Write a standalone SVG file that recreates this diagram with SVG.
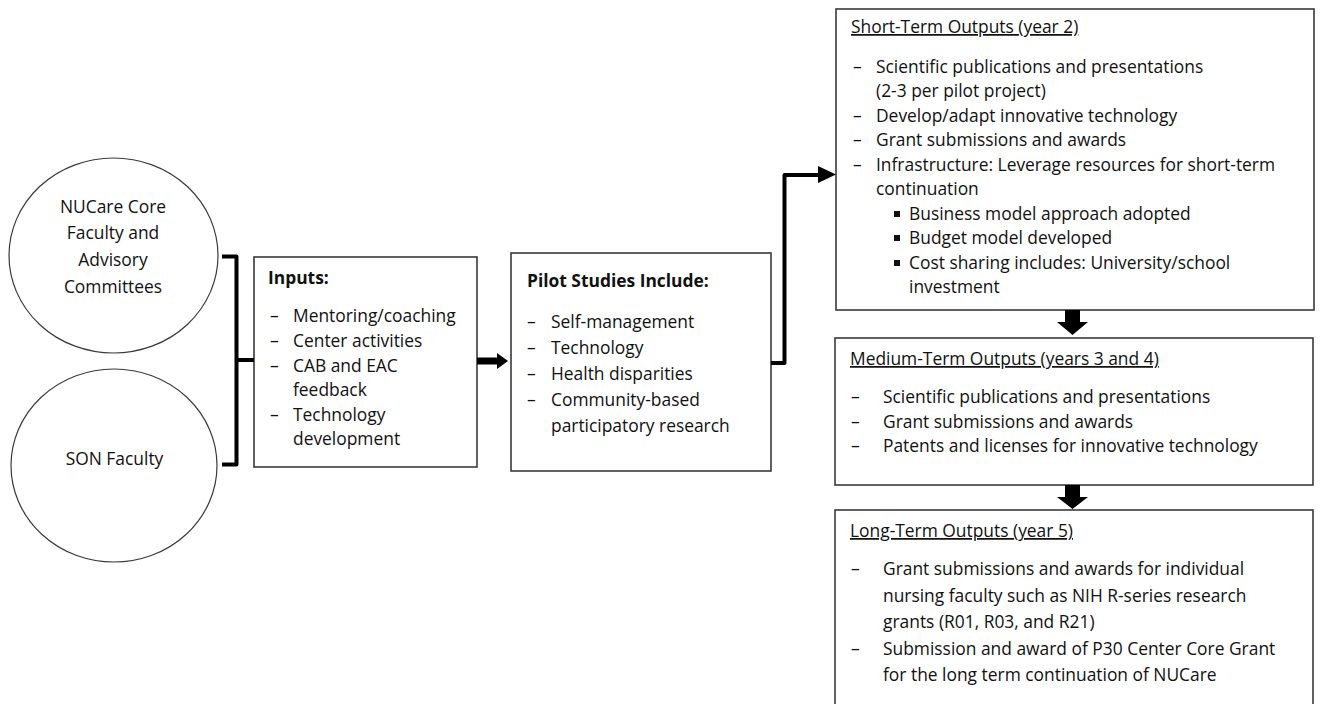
<svg xmlns="http://www.w3.org/2000/svg" width="1320" height="704" viewBox="0 0 1320 704">
<style>
  .t { font-family: "Open Sans", "Liberation Sans", sans-serif; font-size: 17.4px; fill: #111111; }
  .b { font-weight: bold; }
  .u { text-decoration: underline; }
  .c { text-anchor: middle; }
  .box { fill: #ffffff; stroke: #3a3a3a; stroke-width: 1.6; }
  .circ { fill: #ffffff; stroke: #3a3a3a; stroke-width: 1.2; }
  .thick { fill: none; stroke: #000000; stroke-width: 4; stroke-linejoin: round; }
  .head { fill: #000000; stroke: none; }
  .sq { fill: #111111; }
</style>
<rect x="0" y="0" width="1320" height="704" fill="#ffffff"/>

<g id="node-nucare">
  <ellipse class="circ" cx="113.5" cy="255.5" rx="104.5" ry="97.5"/>
  <text class="t c" x="113" y="213">NUCare Core</text>
  <text class="t c" x="113" y="239">Faculty and</text>
  <text class="t c" x="113" y="266">Advisory</text>
  <text class="t c" x="113" y="293">Committees</text>
</g>

<g id="node-son">
  <ellipse class="circ" cx="114" cy="465.5" rx="103" ry="96.5"/>
  <text class="t c" x="114.5" y="465">SON Faculty</text>
</g>

<g id="node-inputs">
  <rect class="box" x="254" y="257" width="223" height="210"/>
  <text class="t b" x="268" y="284">Inputs:</text>
  <text class="t" x="270" y="322">–</text><text class="t" x="293" y="322">Mentoring/coaching</text>
  <text class="t" x="270" y="347">–</text><text class="t" x="293" y="347">Center activities</text>
  <text class="t" x="270" y="372">–</text><text class="t" x="293" y="372">CAB and EAC</text>
  <text class="t" x="293" y="396">feedback</text>
  <text class="t" x="270" y="421">–</text><text class="t" x="293" y="421">Technology</text>
  <text class="t" x="293" y="445">development</text>
</g>

<g id="node-pilot">
  <rect class="box" x="511" y="253" width="260" height="218"/>
  <text class="t b" x="527" y="287">Pilot Studies Include:</text>
  <text class="t" x="527" y="328">–</text><text class="t" x="551" y="328">Self-management</text>
  <text class="t" x="527" y="354">–</text><text class="t" x="551" y="354">Technology</text>
  <text class="t" x="527" y="380">–</text><text class="t" x="551" y="380">Health disparities</text>
  <text class="t" x="527" y="406">–</text><text class="t" x="551" y="406">Community-based</text>
  <text class="t" x="551" y="432">participatory research</text>
</g>

<g id="node-short">
  <rect class="box" x="836" y="9" width="478" height="301"/>
  <text class="t u" x="851" y="33">Short-Term Outputs (year 2)</text>
  <text class="t" x="853" y="73">–</text><text class="t" x="876" y="73">Scientific publications and presentations</text>
  <text class="t" x="876" y="97">(2-3 per pilot project)</text>
  <text class="t" x="853" y="122">–</text><text class="t" x="876" y="122">Develop/adapt innovative technology</text>
  <text class="t" x="853" y="146">–</text><text class="t" x="876" y="146">Grant submissions and awards</text>
  <text class="t" x="853" y="171">–</text><text class="t" x="876" y="171">Infrastructure: Leverage resources for short-term</text>
  <text class="t" x="876" y="195">continuation</text>
  <rect class="sq" x="894" y="211" width="6" height="6"/><text class="t" x="909" y="220">Business model approach adopted</text>
  <rect class="sq" x="894" y="235" width="6" height="6"/><text class="t" x="909" y="244">Budget model developed</text>
  <rect class="sq" x="894" y="260" width="6" height="6"/><text class="t" x="909" y="269">Cost sharing includes: University/school</text>
  <text class="t" x="909" y="293">investment</text>
</g>

<g id="node-medium">
  <rect class="box" x="835" y="338" width="478" height="147"/>
  <text class="t u" x="850" y="365">Medium-Term Outputs (years 3 and 4)</text>
  <text class="t" x="851" y="403">–</text><text class="t" x="883" y="403">Scientific publications and presentations</text>
  <text class="t" x="851" y="428">–</text><text class="t" x="883" y="428">Grant submissions and awards</text>
  <text class="t" x="851" y="452">–</text><text class="t" x="883" y="452">Patents and licenses for innovative technology</text>
</g>

<g id="node-long">
  <rect class="box" x="835" y="510" width="478" height="205"/>
  <text class="t u" x="850" y="537">Long-Term Outputs (year 5)</text>
  <text class="t" x="851" y="575">–</text><text class="t" x="883" y="575">Grant submissions and awards for individual</text>
  <text class="t" x="883" y="602">nursing faculty such as NIH R-series research</text>
  <text class="t" x="883" y="628">grants (R01, R03, and R21)</text>
  <text class="t" x="851" y="655">–</text><text class="t" x="883" y="655">Submission and award of P30 Center Core Grant</text>
  <text class="t" x="883" y="681">for the long term continuation of NUCare</text>
</g>

<g id="connectors">
  <path class="thick" d="M222 256.5 H236.5 V464.5 H222"/>
  <path class="thick" d="M236.5 360 H254"/>
  <polygon class="head" points="477,357.5 497,357.5 497,353 508,361 497,369 497,364.5 477,364.5"/>
  <path class="thick" d="M771 363 H784.5 V175 H820" stroke-width="5"/>
  <polygon class="head" points="818,166 836,174.5 818,183"/>
  <polygon class="head" points="1065,310 1080,310 1080,322 1088,322 1072.5,335 1057,322 1065,322"/>
  <polygon class="head" points="1065,485 1080,485 1080,497 1088,497 1072.5,509 1057,497 1065,497"/>
</g>
</svg>
